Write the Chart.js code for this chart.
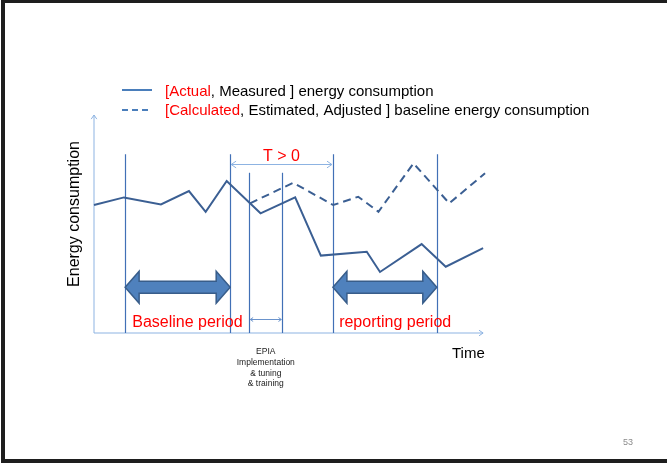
<!DOCTYPE html>
<html>
<head>
<meta charset="utf-8">
<script src="https://cdn.jsdelivr.net/npm/chart.js@4"></script>
<style>
  html, body { margin: 0; padding: 0; background: #fff; }
  #wrap { width: 667px; height: 463px; }
</style>
</head>
<body>
<div id="wrap"><canvas id="energyChart" width="667" height="463"></canvas></div>
<script>
// time axis runs 0..100, energy axis 0..100 (no units in the slide)
const actualTimes = [0, 7.7, 17.2, 24.4, 28.7, 34.1, 40.1, 42.8, 51.7, 58.3, 70.1, 73.5, 84.2, 90.4, 100];
const actualValues = [58.7, 62.2, 59.0, 65.1, 55.6, 69.7, 59.5, 54.9, 62.2, 35.5, 37.3, 28.0, 40.8, 30.4, 38.9];
const baselineTimes = [40.1, 51.2, 61.5, 67.9, 73.1, 82.1, 91.3, 100.5];
const baselineValues = [59.5, 68.9, 58.7, 62.5, 55.6, 77.8, 59.5, 73.3];

// period boundaries: baseline start/end, EPIA start/end, reporting start/end
const boundaryTimes = [8.0, 35.0, 39.9, 48.4, 61.4, 88.1];
const boundaryTops = [82, 82, 73.5, 73.5, 82, 82];

const periodNames = ['Baseline period', 'reporting period'];
const periodStarts = [8.0, 61.4];
const periodEnds = [35.0, 88.1];
const periodLabelAt = [24.0, 77.4];

const legendRed = ['[Actual', '[Calculated'];
const legendRest = [', Measured ] energy consumption', ', Estimated, Adjusted ] baseline energy consumption'];
const epiaLines = ['EPIA', 'Implementation', '& tuning', '& training'];

const FONT = '"Liberation Sans", Arial, sans-serif';
const LINE_BLUE = '#3B5F93';
const VLINE_BLUE = '#4170B6';
const LIGHT_BLUE = '#8DB3E2';

function chevron(ctx, x, y, dx, dy, size) {
    // open arrow head pointing along (dx,dy)
    const a = Math.atan2(dy, dx);
    ctx.beginPath();
    ctx.moveTo(x - size * Math.cos(a - 0.6), y - size * Math.sin(a - 0.6));
    ctx.lineTo(x, y);
    ctx.lineTo(x - size * Math.cos(a + 0.6), y - size * Math.sin(a + 0.6));
    ctx.stroke();
}

function blockArrow(ctx, x0, x1, yc) {
    const H = 16, h = 6, hl = 14;
    ctx.beginPath();
    ctx.moveTo(x0, yc);
    ctx.lineTo(x0 + hl, yc - H);
    ctx.lineTo(x0 + hl, yc - h);
    ctx.lineTo(x1 - hl, yc - h);
    ctx.lineTo(x1 - hl, yc - H);
    ctx.lineTo(x1, yc);
    ctx.lineTo(x1 - hl, yc + H);
    ctx.lineTo(x1 - hl, yc + h);
    ctx.lineTo(x0 + hl, yc + h);
    ctx.lineTo(x0 + hl, yc + H);
    ctx.closePath();
    ctx.fillStyle = '#4F81BD';
    ctx.fill();
    ctx.strokeStyle = '#385D8A';
    ctx.lineWidth = 1.5;
    ctx.stroke();
}

const slidePlugin = {
    id: 'slide',
    beforeDatasetsDraw(chart) {
        const { ctx, scales: { x, y } } = chart;
        ctx.save();
        // axes with arrow heads
        ctx.strokeStyle = LIGHT_BLUE;
        ctx.lineWidth = 1;
        ctx.beginPath();
        ctx.moveTo(x.getPixelForValue(0), y.getPixelForValue(0));
        ctx.lineTo(x.getPixelForValue(0), y.getPixelForValue(100));
        ctx.moveTo(x.getPixelForValue(0), y.getPixelForValue(0));
        ctx.lineTo(x.getPixelForValue(100), y.getPixelForValue(0));
        ctx.stroke();
        chevron(ctx, x.getPixelForValue(0), y.getPixelForValue(100), 0, -1, 5);
        chevron(ctx, x.getPixelForValue(100), y.getPixelForValue(0), 1, 0, 5);

        // vertical period lines
        ctx.strokeStyle = VLINE_BLUE;
        ctx.lineWidth = 1.2;
        boundaryTimes.forEach((t, i) => {
            const px = Math.round(x.getPixelForValue(t)) + 0.5;
            ctx.beginPath();
            ctx.moveTo(px, y.getPixelForValue(boundaryTops[i]));
            ctx.lineTo(px, y.getPixelForValue(0));
            ctx.stroke();
        });
        ctx.restore();
    },
    afterDatasetsDraw(chart) {
        const { ctx, scales: { x, y } } = chart;
        ctx.save();

        // block arrows + period labels
        periodNames.forEach((name, i) => {
            blockArrow(ctx, x.getPixelForValue(periodStarts[i]), x.getPixelForValue(periodEnds[i]), y.getPixelForValue(21));
            ctx.fillStyle = '#FF0000';
            ctx.font = '16px ' + FONT;
            ctx.textAlign = 'center';
            ctx.textBaseline = 'middle';
            ctx.fillText(name, x.getPixelForValue(periodLabelAt[i]), y.getPixelForValue(5));
        });

        // T > 0 arrow
        const tx0 = x.getPixelForValue(boundaryTimes[1]) + 1;
        const tx1 = x.getPixelForValue(boundaryTimes[4]) - 1;
        const ty = Math.round(y.getPixelForValue(77.4)) + 0.5;
        ctx.strokeStyle = LIGHT_BLUE;
        ctx.lineWidth = 1;
        ctx.beginPath();
        ctx.moveTo(tx0, ty);
        ctx.lineTo(tx1, ty);
        ctx.stroke();
        chevron(ctx, tx0, ty, -1, 0, 6);
        chevron(ctx, tx1, ty, 1, 0, 6);
        ctx.fillStyle = '#FF0000';
        ctx.font = '16px ' + FONT;
        ctx.textAlign = 'center';
        ctx.textBaseline = 'middle';
        ctx.fillText('T > 0', (tx0 + tx1) / 2, y.getPixelForValue(80.9));

        // EPIA small arrow
        const ex0 = x.getPixelForValue(boundaryTimes[2]) + 1;
        const ex1 = x.getPixelForValue(boundaryTimes[3]) - 1;
        const ey = Math.round(y.getPixelForValue(6.4)) + 0.5;
        ctx.strokeStyle = '#6A93CC';
        ctx.beginPath();
        ctx.moveTo(ex0, ey);
        ctx.lineTo(ex1, ey);
        ctx.stroke();
        chevron(ctx, ex0, ey, -1, 0, 3.5);
        chevron(ctx, ex1, ey, 1, 0, 3.5);

        // EPIA note under the axis
        ctx.fillStyle = '#222';
        ctx.font = '8.5px ' + FONT;
        const ecx = (ex0 + ex1) / 2;
        epiaLines.forEach((s, i) => ctx.fillText(s, ecx, 352 + i * 10.7));

        // axis titles
        ctx.fillStyle = '#000';
        ctx.font = '15px ' + FONT;
        ctx.textAlign = 'left';
        ctx.fillText('Time', 452, 354);
        ctx.font = '16px ' + FONT;
        ctx.save();
        ctx.translate(75, 214);
        ctx.rotate(-Math.PI / 2);
        ctx.textAlign = 'center';
        ctx.fillText('Energy consumption', 0, 0);
        ctx.restore();

        // legend
        ctx.lineWidth = 2;
        ctx.strokeStyle = '#4A7EBB';
        ctx.beginPath();
        ctx.moveTo(122, 90);
        ctx.lineTo(152, 90);
        ctx.stroke();
        ctx.setLineDash([6, 4]);
        ctx.beginPath();
        ctx.moveTo(122, 110);
        ctx.lineTo(152, 110);
        ctx.stroke();
        ctx.setLineDash([]);
        ctx.font = '15px ' + FONT;
        ctx.textAlign = 'left';
        [92, 110.5].forEach((ly, i) => {
            ctx.fillStyle = '#FF0000';
            ctx.fillText(legendRed[i], 165, ly);
            const w = ctx.measureText(legendRed[i]).width;
            ctx.fillStyle = '#000';
            ctx.fillText(legendRest[i], 165 + w, ly);
        });

        // page number
        ctx.fillStyle = '#8A8A8A';
        ctx.font = '9px ' + FONT;
        ctx.textAlign = 'center';
        ctx.fillText('53', 628, 443);

        // slide frame
        ctx.fillStyle = '#1E1E1E';
        ctx.fillRect(1, 0, 666, 3);
        ctx.fillRect(1, 0, 4, 463);
        ctx.fillRect(1, 459, 666, 4);
        ctx.restore();
    }
};

new Chart(document.getElementById('energyChart'), {
    type: 'line',
    data: {
        datasets: [{
            label: 'Actual, Measured energy consumption',
            data: actualTimes.map((t, i) => ({ x: t, y: actualValues[i] })),
            borderColor: LINE_BLUE,
            borderWidth: 2,
            pointRadius: 0,
            tension: 0
        }, {
            label: 'Calculated, Estimated, Adjusted baseline energy consumption',
            data: baselineTimes.map((t, i) => ({ x: t, y: baselineValues[i] })),
            borderColor: LINE_BLUE,
            borderWidth: 2,
            borderDash: [8, 5],
            pointRadius: 0,
            tension: 0
        }]
    },
    options: {
        responsive: false,
        animation: false,
        clip: false,
        layout: { padding: { left: 94, right: 180, top: 115, bottom: 130 } },
        plugins: { legend: { display: false }, tooltip: { enabled: false } },
        scales: {
            x: { type: 'linear', min: 0, max: 101, display: false },
            y: { min: 0, max: 100, display: false }
        }
    },
    plugins: [slidePlugin]
});
</script>
</body>
</html>
